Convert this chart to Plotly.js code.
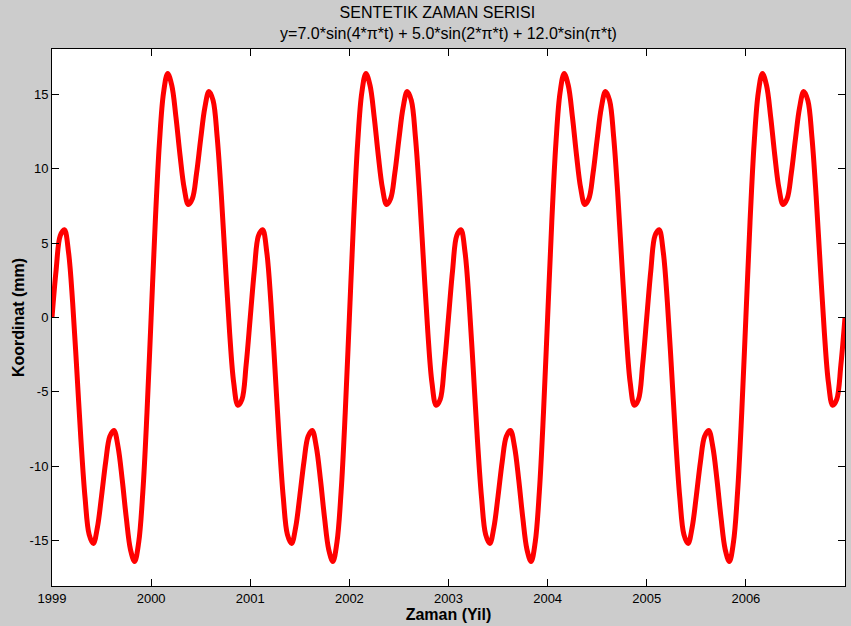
<!DOCTYPE html>
<html>
<head>
<meta charset="utf-8">
<script src="https://cdn.plot.ly/plotly-3.0.1.min.js"></script>
<style>
  html, body { margin: 0; padding: 0; background: #cccccc; }
  #chart { width: 851px; height: 626px; }
</style>
</head>
<body>
<div id="chart"></div>
<script>
// Sample grid of the series (years), read every half month
const startYear = 1999;
const samplesPerYear = 24;

// Coordinate values (mm), one block per two years
const values1999_2000 = [0, 3.2, 5.5, 5.9, 4.4, 1.0, -3.5, -8.2, -12.1, -14.6, -15.2, -14.1,
  -12.0, -9.7, -8.0, -7.6, -8.7, -10.9, -13.5, -15.6, -16.4, -15.1, -11.7, -6.4,
  0, 6.4, 11.7, 15.1, 16.4, 15.6, 13.5, 10.9, 8.7, 7.6, 8.0, 9.7,
  12.0, 14.1, 15.2, 14.6, 12.1, 8.2, 3.5, -1.0, -4.4, -5.9, -5.5, -3.2];
const values2001_2002 = [0, 3.2, 5.5, 5.9, 4.4, 1.0, -3.5, -8.2, -12.1, -14.6, -15.2, -14.1,
  -12.0, -9.7, -8.0, -7.6, -8.7, -10.9, -13.5, -15.6, -16.4, -15.1, -11.7, -6.4,
  0, 6.4, 11.7, 15.1, 16.4, 15.6, 13.5, 10.9, 8.7, 7.6, 8.0, 9.7,
  12.0, 14.1, 15.2, 14.6, 12.1, 8.2, 3.5, -1.0, -4.4, -5.9, -5.5, -3.2];
const values2003_2004 = [0, 3.2, 5.5, 5.9, 4.4, 1.0, -3.5, -8.2, -12.1, -14.6, -15.2, -14.1,
  -12.0, -9.7, -8.0, -7.6, -8.7, -10.9, -13.5, -15.6, -16.4, -15.1, -11.7, -6.4,
  0, 6.4, 11.7, 15.1, 16.4, 15.6, 13.5, 10.9, 8.7, 7.6, 8.0, 9.7,
  12.0, 14.1, 15.2, 14.6, 12.1, 8.2, 3.5, -1.0, -4.4, -5.9, -5.5, -3.2];
const values2005_2006 = [0, 3.2, 5.5, 5.9, 4.4, 1.0, -3.5, -8.2, -12.1, -14.6, -15.2, -14.1,
  -12.0, -9.7, -8.0, -7.6, -8.7, -10.9, -13.5, -15.6, -16.4, -15.1, -11.7, -6.4,
  0, 6.4, 11.7, 15.1, 16.4, 15.6, 13.5, 10.9, 8.7, 7.6, 8.0, 9.7,
  12.0, 14.1, 15.2, 14.6, 12.1, 8.2, 3.5, -1.0, -4.4, -5.9, -5.5, -3.2, 0];

const xTickValues = [1999, 2000, 2001, 2002, 2003, 2004, 2005, 2006];
const xTickLabels = ['1999', '2000', '2001', '2002', '2003', '2004', '2005', '2006'];
const yTickValues = [-15, -10, -5, 0, 5, 10, 15];
const yTickLabels = ['-15', '-10', '-5', '0', '5', '10', '15'];

const yValues = [].concat(values1999_2000, values2001_2002, values2003_2004, values2005_2006);
const xValues = yValues.map((_, i) => startYear + i / samplesPerYear);

const FONT = 'Liberation Sans, Arial, Helvetica, sans-serif';

const trace = {
  x: xValues,
  y: yValues,
  type: 'scatter',
  mode: 'lines',
  line: { color: '#ff0000', width: 5, shape: 'spline', smoothing: 1 },
  hoverinfo: 'x+y'
};

const axisCommon = {
  showline: true, linecolor: '#000000', linewidth: 1, mirror: 'ticks',
  ticks: 'inside', ticklen: 7, tickwidth: 1, tickcolor: '#000000',
  showgrid: false, zeroline: false, automargin: false,
  tickfont: { family: FONT, size: 13, color: '#000000' }
};

const layout = {
  width: 851, height: 626,
  paper_bgcolor: '#cccccc', plot_bgcolor: '#ffffff',
  margin: { l: 52, r: 6, t: 49, b: 40, pad: 0 },
  showlegend: false,
  title: {
    text: 'SENTETIK ZAMAN SERISI\u00a0\u00a0\u00a0\u00a0\u00a0<br>y=7.0*sin(4*\u03c0*t) + 5.0*sin(2*\u03c0*t) + 12.0*sin(\u03c0*t)',
    font: { family: FONT, size: 16, color: '#000000' },
    x: 0.5, xref: 'paper', xanchor: 'center',
    y: 0.971, yref: 'container', yanchor: 'top'
  },
  xaxis: Object.assign({}, axisCommon, {
    range: [1999, 2007],
    tickmode: 'array', tickvals: xTickValues, ticktext: xTickLabels,
    title: { text: '<b>Zaman (Yil)</b>', font: { family: FONT, size: 16, color: '#000000' }, standoff: 3 }
  }),
  yaxis: Object.assign({}, axisCommon, {
    range: [-18.05, 18.05],
    tickmode: 'array', tickvals: yTickValues, ticktext: yTickLabels,
    title: { text: '<b>Koordinat (mm)</b>', font: { family: FONT, size: 16, color: '#000000' }, standoff: 1 }
  })
};

Plotly.newPlot('chart', [trace], layout, { displayModeBar: false, staticPlot: true });
</script>
</body>
</html>
